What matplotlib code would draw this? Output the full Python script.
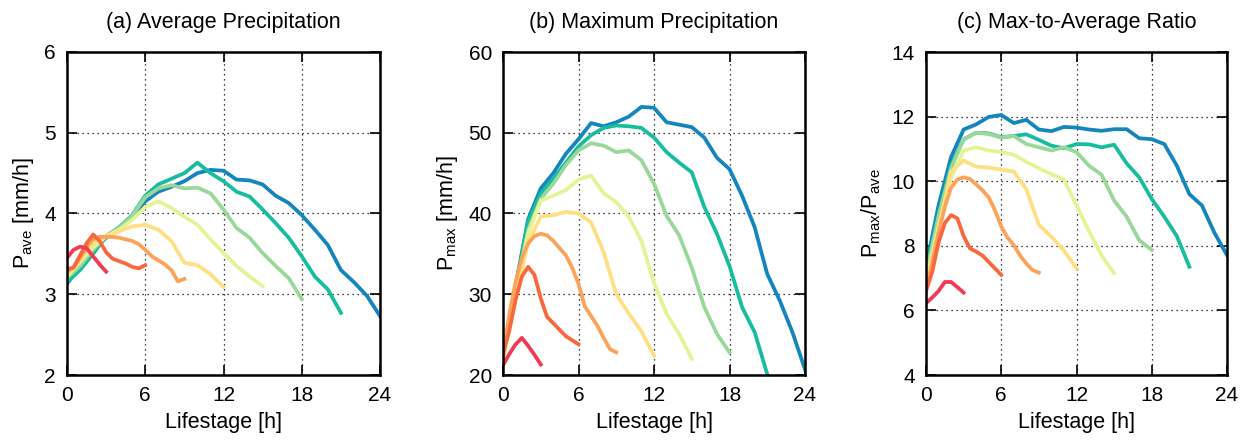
import numpy as np
import matplotlib
matplotlib.use("Agg")
import matplotlib.pyplot as plt

plt.rcParams["font.family"] = ["Liberation Sans", "DejaVu Sans"]
plt.rcParams["mathtext.fontset"] = "custom"
plt.rcParams["mathtext.rm"] = "Liberation Sans"
plt.rcParams["mathtext.it"] = "Liberation Sans:italic"

# lifetimes of the cloud groups [h]
lifetimes = [24, 21, 18, 15, 12, 9, 6, 3]
colors = ["#1585bd", "#17bd9e", "#9ad89a", "#e2f495",
          "#fedf82", "#fca35a", "#f8683f", "#f23a52"]

# (a) average precipitation [mm/h]
pave = {
    24: [3.13, 3.35, 3.55, 3.7, 3.8, 3.97, 4.15, 4.27, 4.33, 4.4, 4.5, 4.54, 4.53,
         4.42, 4.41, 4.36, 4.22, 4.13, 3.98, 3.8, 3.61, 3.3, 3.15, 2.98, 2.73],
    21: [3.15, 3.3, 3.5, 3.72, 3.83, 3.98, 4.22, 4.36, 4.43, 4.5, 4.63, 4.5, 4.4,
         4.27, 4.21, 4.05, 3.88, 3.7, 3.47, 3.22, 3.06, 2.77],
    18: [3.2, 3.35, 3.55, 3.72, 3.82, 3.97, 4.2, 4.31, 4.35, 4.31, 4.32, 4.25, 4.05,
         3.82, 3.7, 3.51, 3.35, 3.2, 2.94],
    15: [3.22, 3.4, 3.58, 3.72, 3.8, 3.92, 4.08, 4.15, 4.07, 3.96, 3.86, 3.68, 3.51,
         3.35, 3.22, 3.1],
    12: [3.25, 3.42, 3.62, 3.72, 3.78, 3.84, 3.86, 3.8, 3.66, 3.39, 3.36, 3.25, 3.09],
    9: [3.28, 3.33, 3.45, 3.58, 3.68, 3.71, 3.71, 3.71, 3.7, 3.68, 3.66, 3.62, 3.55,
        3.47, 3.42, 3.37, 3.3, 3.16, 3.19],
    6: [3.31, 3.33, 3.48, 3.63, 3.74, 3.66, 3.52, 3.44, 3.41, 3.38, 3.34, 3.32, 3.36],
    3: [3.45, 3.55, 3.59, 3.57, 3.47, 3.37, 3.28],
}

# (b) maximum precipitation [mm/h]
pmax = {
    24: [22.6, 31.0, 39.3, 43.1, 45.0, 47.4, 49.2, 51.2, 50.8, 51.3, 52.0, 53.2, 53.1,
         51.3, 51.0, 50.7, 49.4, 46.9, 45.5, 42.2, 38.3, 32.5, 29.2, 25.3, 20.7],
    21: [22.8, 31.0, 39.0, 42.5, 44.3, 46.3, 48.3, 49.7, 50.6, 50.9, 50.8, 50.6, 49.4,
         47.6, 46.3, 45.1, 40.8, 37.5, 33.5, 28.4, 25.3, 20.1],
    18: [22.5, 30.5, 38.0, 41.8, 43.7, 46.0, 47.8, 48.7, 48.4, 47.6, 47.8, 46.6, 43.7,
         39.7, 37.3, 33.3, 28.4, 25.1, 22.8],
    15: [22.3, 30.0, 37.5, 41.6, 42.2, 42.9, 44.2, 44.7, 42.5, 41.4, 39.6, 36.6, 31.4,
         27.6, 25.1, 22.0],
    12: [21.8, 29.5, 36.5, 39.6, 39.8, 40.2, 40.0, 38.9, 35.2, 30.0, 27.6, 25.4, 22.4],
    9: [22.2, 27.5, 31.5, 34.5, 36.3, 37.2, 37.5, 37.3, 36.6, 35.7, 34.8, 33.3, 31.3,
        28.5, 27.3, 26.1, 24.6, 23.2, 22.8],
    6: [22.6, 25.5, 29.3, 32.2, 33.4, 32.4, 29.5, 27.2, 26.4, 25.6, 24.8, 24.3, 23.8],
    3: [21.2, 22.6, 23.8, 24.6, 23.6, 22.5, 21.3],
}

# (c) max-to-average ratio
ratio = {
    24: [7.35, 9.25, 10.75, 11.6, 11.76, 11.99, 12.05, 11.8, 11.9, 11.6, 11.55, 11.68,
         11.66, 11.6, 11.56, 11.61, 11.61, 11.33, 11.3, 11.15, 10.48, 9.6, 9.25, 8.4, 7.71],
    21: [7.2, 9.0, 10.5, 11.3, 11.5, 11.48, 11.36, 11.4, 11.45, 11.28, 11.1, 11.02,
         11.15, 11.14, 11.05, 11.13, 10.55, 10.12, 9.45, 8.9, 8.3, 7.35],
    18: [7.1, 8.9, 10.4, 11.3, 11.5, 11.46, 11.35, 11.4, 11.15, 11.05, 10.95, 11.05,
         10.9, 10.48, 10.2, 9.4, 8.9, 8.17, 7.87],
    15: [6.9, 8.6, 10.1, 10.95, 11.05, 10.95, 10.9, 10.82, 10.6, 10.4, 10.22, 10.05,
         9.25, 8.45, 7.7, 7.15],
    12: [6.8, 8.5, 10.3, 10.64, 10.45, 10.42, 10.36, 10.3, 9.75, 8.65, 8.28, 7.85, 7.3],
    9: [6.6, 7.5, 8.4, 9.2, 9.8, 10.05, 10.12, 10.07, 9.9, 9.72, 9.5, 9.1, 8.6, 8.25,
        8.02, 7.7, 7.45, 7.25, 7.17],
    6: [6.6, 7.2, 8.1, 8.7, 8.95, 8.85, 8.3, 7.92, 7.82, 7.7, 7.5, 7.3, 7.1],
    3: [6.22, 6.4, 6.6, 6.88, 6.88, 6.72, 6.55],
}

panels = [
    ("(a) Average Precipitation", r"P$_\mathrm{ave}$ [mm/h]", pave, (2, 6), np.arange(2, 7, 1)),
    ("(b) Maximum Precipitation", r"P$_\mathrm{max}$ [mm/h]", pmax, (20, 60), np.arange(20, 61, 10)),
    ("(c) Max-to-Average Ratio", r"P$_\mathrm{max}$/P$_\mathrm{ave}$", ratio, (4, 14), np.arange(4, 15, 2)),
]

W, H = 1251, 444
fig = plt.figure(figsize=(W / 100, H / 100), dpi=100)
lefts = [67, 503, 926]
rights = [380, 805, 1227]
top, bottom = 52, 375

for i, (title, ylabel, data, ylim, yticks) in enumerate(panels):
    ax = fig.add_axes([lefts[i] / W, 1 - bottom / H,
                       (rights[i] - lefts[i]) / W, (bottom - top) / H])
    for L, c in zip(lifetimes, colors):
        vals = data[L]
        t = np.linspace(0, L, len(vals))
        ax.plot(t, vals, color=c, lw=2.7)
    ax.set_xlim(0, 24)
    ax.set_ylim(*ylim)
    ax.set_xticks([0, 6, 12, 18, 24])
    ax.set_yticks(yticks)
    ax.grid(True, color="black", ls=(0, (1, 3)), lw=0.9)
    ax.tick_params(direction="in", length=7, width=1.2, top=True, right=True,
                   labelsize=15, pad=8)
    for s in ax.spines.values():
        s.set_linewidth(1.8)
    ax.set_title(title, fontsize=15.5, pad=17)
    ax.set_xlabel("Lifestage [h]", fontsize=15.5, labelpad=5)
    ax.set_ylabel(ylabel, fontsize=15.5, labelpad=6)

fig.savefig("out.png", dpi=100, facecolor="white")
